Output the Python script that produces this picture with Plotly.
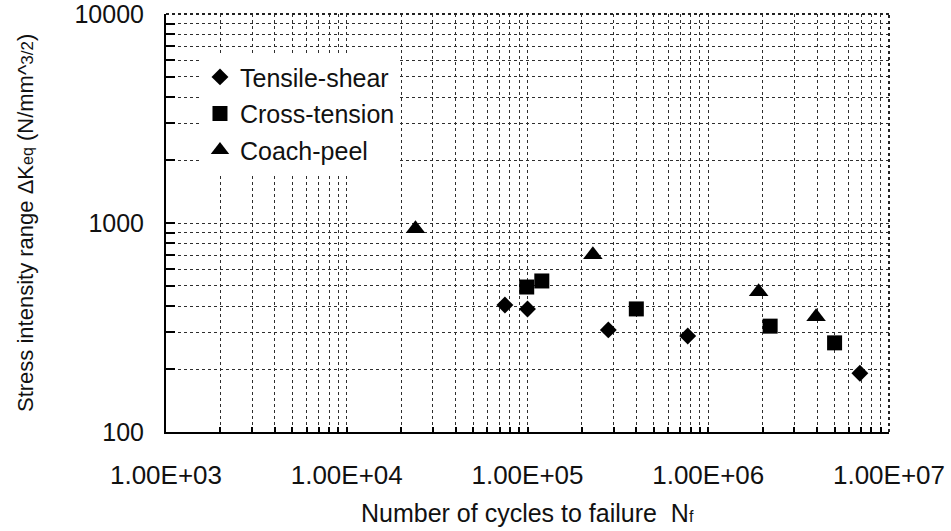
import plotly.graph_objects as go

# Fatigue data: cycles to failure vs. equivalent stress intensity range
tensile_n = [7.5e4, 1.0e5, 2.8e5, 7.7e5, 6.9e6]
tensile_k = [405, 388, 308, 288, 191]

cross_n = [9.9e4, 1.2e5, 4.0e5, 2.2e6, 5.0e6]
cross_k = [494, 528, 388, 321, 267]

coach_n = [2.4e4, 2.3e5, 1.9e6, 3.95e6]
coach_k = [939, 705, 469, 356]

x_ticks = [1e3, 1e4, 1e5, 1e6, 1e7]
x_ticktext = ["1.00E+03", "1.00E+04", "1.00E+05", "1.00E+06", "1.00E+07"]
y_ticks = [100, 1000, 10000]
y_ticktext = ["100", "1000", "10000"]

x_title = "Number of cycles to failure  N<span style='font-size:16px'>f</span>"
y_title = ("Stress intensity range \u0394K<span style='font-size:16px'>eq</span> "
           "(N/mm^<span style='font-size:17px'>3/2</span>)")

FONT = "Liberation Sans, Arial, Helvetica, sans-serif"
INK = "#111111"
GRID = "#2e2e2e"


def minor_vals(lo_exp, hi_exp):
    return [m * 10 ** e for e in range(lo_exp, hi_exp) for m in range(2, 10)]


fig = go.Figure()
fig.add_trace(go.Scatter(
    x=tensile_n, y=tensile_k, mode="markers", name="Tensile-shear",
    legendgroup="ts",
    marker=dict(symbol="diamond", size=13, color="black"),
))
fig.add_trace(go.Scatter(
    x=cross_n, y=cross_k, mode="markers", name="Cross-tension",
    legendgroup="ct",
    marker=dict(symbol="square", size=15, color="black"),
))
fig.add_trace(go.Scatter(
    x=coach_n, y=coach_k, mode="markers", name="Coach-peel",
    legendgroup="cp",
    marker=dict(symbol="triangle-up", size=17, color="black"),
))

fig.update_layout(
    width=951, height=531,
    margin=dict(l=166, r=62, t=14, b=99, autoexpand=False),
    paper_bgcolor="white", plot_bgcolor="white",
    font=dict(family=FONT, color=INK),
    showlegend=True,
    legend=dict(
        x=0.047, y=0.904, xanchor="left", yanchor="top",
        bgcolor="white", borderwidth=0,
        font=dict(size=25, family=FONT, color=INK),
        itemsizing="trace", tracegroupgap=1,
    ),
    xaxis=dict(
        type="log", range=[3, 7], automargin=False,
        tickmode="array", tickvals=x_ticks, ticktext=x_ticktext,
        tickfont=dict(size=26, family=FONT, color=INK),
        ticklabeloverflow="allow",
        ticks="inside", ticklen=5, tickwidth=2, tickcolor="black",
        ticklabelstandoff=19,
        showline=True, linecolor="black", linewidth=2,
        showgrid=True, gridcolor=GRID, griddash="dot", gridwidth=1.2,
        minor=dict(tickmode="array", tickvals=minor_vals(3, 7),
                   ticks="inside", ticklen=5, tickwidth=2, tickcolor="black",
                   showgrid=True, gridcolor=GRID, griddash="dot", gridwidth=1.2),
        zeroline=False,
    ),
    yaxis=dict(
        type="log", range=[2, 4], automargin=False,
        tickmode="array", tickvals=y_ticks, ticktext=y_ticktext,
        tickfont=dict(size=25, family=FONT, color=INK),
        ticklabeloverflow="allow",
        ticks="inside", ticklen=9, tickwidth=2, tickcolor="black",
        ticklabelstandoff=15,
        showline=True, linecolor="black", linewidth=2,
        showgrid=True, gridcolor=GRID, griddash="dot", gridwidth=1.2,
        minor=dict(tickmode="array", tickvals=minor_vals(2, 4),
                   ticks="inside", ticklen=9, tickwidth=2, tickcolor="black",
                   showgrid=True, gridcolor=GRID, griddash="dot", gridwidth=1.2),
        zeroline=False,
    ),
)

# Axis titles
fig.add_annotation(text=x_title, xref="paper", yref="paper", x=0.5, y=0,
                   xanchor="center", yanchor="middle", yshift=-81, showarrow=False,
                   font=dict(size=25, family=FONT, color=INK))
fig.add_annotation(text=y_title, xref="paper", yref="paper", x=0, y=0.5,
                   xanchor="center", yanchor="middle", xshift=-141, textangle=-90,
                   showarrow=False, font=dict(size=22, family=FONT, color=INK))

# Dotted frame on the top and right sides of the plot area
fig.add_shape(type="line", xref="paper", yref="paper", x0=0, x1=1, y0=1, y1=1,
              line=dict(color="#222222", width=2, dash="dot"), layer="above")
fig.add_shape(type="line", xref="paper", yref="paper", x0=1, x1=1, y0=0, y1=1,
              line=dict(color="#222222", width=2, dash="dot"), layer="above")

fig.write_html("out.html")
